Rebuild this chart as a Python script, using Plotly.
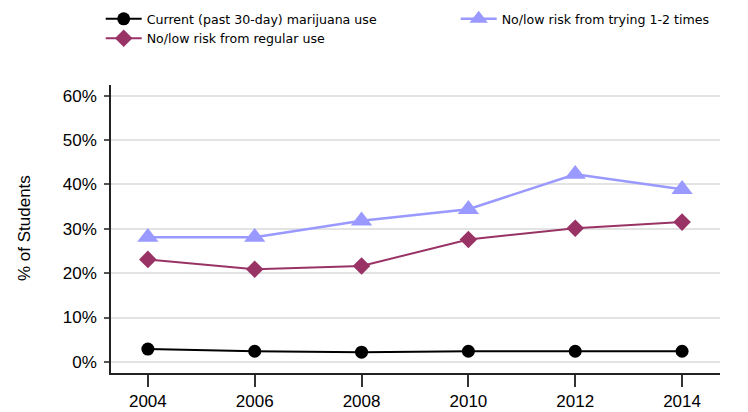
import plotly.graph_objects as go

years = [2004, 2006, 2008, 2010, 2012, 2014]
current_use = [2.9, 2.4, 2.2, 2.4, 2.4, 2.4]
risk_trying = [28.1, 28.1, 31.8, 34.4, 42.3, 38.9]
risk_regular = [23.1, 20.9, 21.6, 27.6, 30.1, 31.5]
y_tickvals = [0, 10, 20, 30, 40, 50, 60]
y_ticktext = ["0%", "10%", "20%", "30%", "40%", "50%", "60%"]
y_title = "% of Students"

fig = go.Figure()
fig.add_trace(go.Scatter(
    x=years, y=current_use, name="Current (past 30-day) marijuana use",
    mode="lines+markers", legend="legend",
    line=dict(color="#000000", width=2),
    marker=dict(symbol="circle", size=13, color="#000000"),
))
fig.add_trace(go.Scatter(
    x=years, y=risk_regular, name="No/low risk from regular use",
    mode="lines+markers", legend="legend",
    line=dict(color="#993366", width=2),
    marker=dict(symbol="diamond", size=13.5, color="#993366"),
))
fig.add_trace(go.Scatter(
    x=years, y=risk_trying, name="No/low risk from trying 1-2 times",
    mode="lines+markers", legend="legend2",
    line=dict(color="#9999ff", width=2.5),
    marker=dict(symbol="triangle-up", size=18.5, color="#9999ff"),
))

legend_font = dict(family="DejaVu Sans, Verdana, sans-serif", size=12.6, color="#000000")

fig.update_layout(
    width=748, height=412,
    margin=dict(l=111, r=28, t=85, b=39, autoexpand=False),
    paper_bgcolor="white", plot_bgcolor="white",
    font=dict(family="Liberation Sans, Arial, sans-serif", size=17, color="#000000"),
    showlegend=True,
    legend=dict(
        orientation="v", xref="container", yref="container",
        x=100.7 / 748, y=0.99, xanchor="left", yanchor="top",
        font=legend_font, itemwidth=36, tracegroupgap=0,
        bgcolor="rgba(0,0,0,0)",
    ),
    legend2=dict(
        orientation="v", xref="container", yref="container",
        x=455.7 / 748, y=0.99, xanchor="left", yanchor="top",
        font=legend_font, itemwidth=36, tracegroupgap=0,
        bgcolor="rgba(0,0,0,0)",
    ),
    xaxis=dict(
        range=[2003.31, 2014.71], tickvals=years, ticktext=[str(y) for y in years],
        showgrid=False, zeroline=False, automargin=False,
        showline=True, linecolor="#222222", linewidth=1.5,
        ticks="outside", ticklen=12, tickwidth=1.5, tickcolor="#333333",
        tickfont=dict(size=17),
    ),
    yaxis=dict(
        range=[-2.5, 62.4], tickvals=y_tickvals, ticktext=y_ticktext,
        showgrid=True, gridcolor="#e3e3e3", gridwidth=1.5, zeroline=False,
        automargin=False,
        showline=True, linecolor="#222222", linewidth=1.5,
        ticks="outside", ticklen=5, tickwidth=1.5, tickcolor="#555555",
        ticklabelstandoff=4,
        tickfont=dict(size=17),
    ),
    annotations=[dict(
        text=y_title, textangle=-90, showarrow=False,
        xref="paper", yref="paper", x=0, y=0.5, xshift=-87, yshift=1,
        xanchor="center", yanchor="middle",
        font=dict(family="Liberation Sans, Arial, sans-serif", size=17, color="#000000"),
    )],
)

fig.write_html("out.html", config={"displayModeBar": False},
               post_script="document.body.style.margin='0';")
